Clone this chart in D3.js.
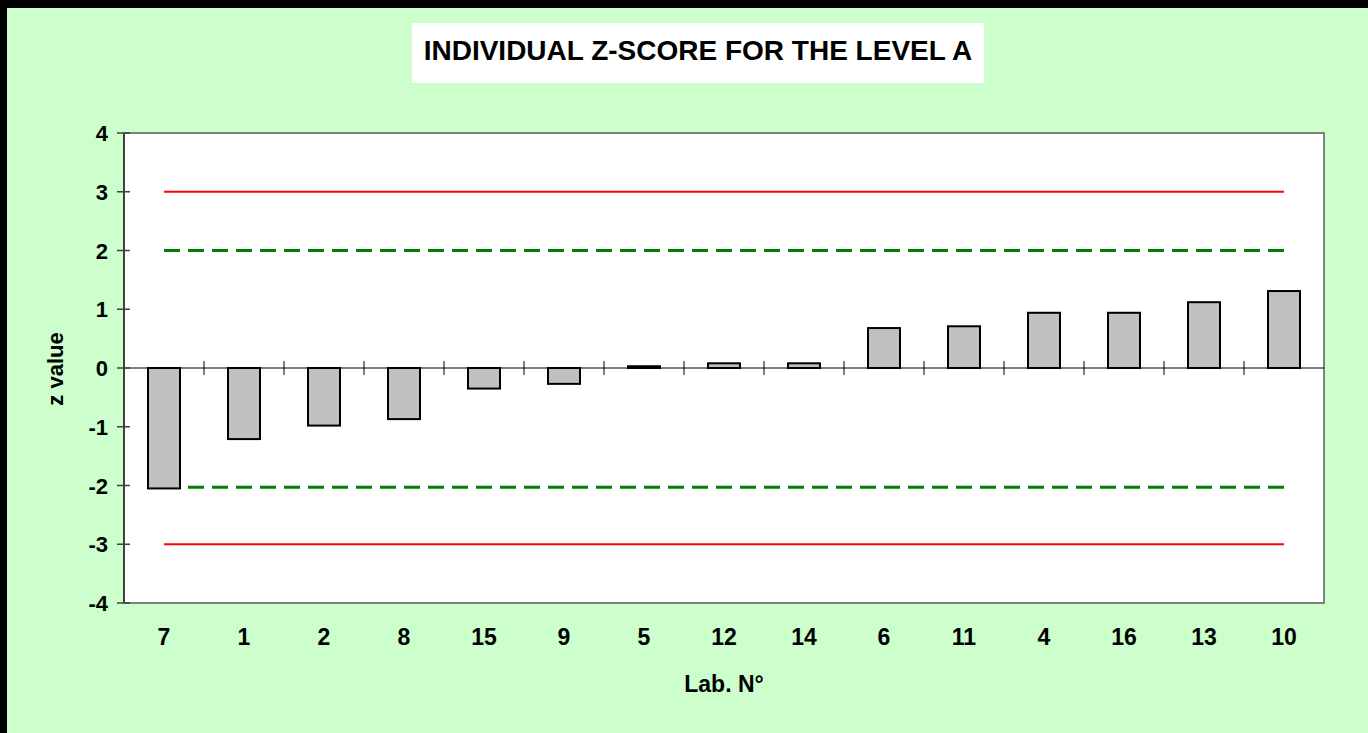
<!DOCTYPE html>
<html><head><meta charset="utf-8">
<script src="https://cdn.jsdelivr.net/npm/d3@7"></script>
<style>body{margin:0;background:#000;}svg{display:block;}</style>
</head><body>
<script>
const labs = ["7","1","2","8","15","9","5","12","14","6","11","4","16","13","10"];
const zValues = [-2.05,-1.21,-0.98,-0.87,-0.35,-0.27,0.03,0.08,0.08,0.68,0.71,0.94,0.94,1.12,1.31];
const yTicks = [4,3,2,1,0,-1,-2,-3,-4];
const redLimits = [3,-3];
const greenLimits = [2,-2.03];

const W=1368,H=733;
const svg=d3.select("body").append("svg").attr("width",W).attr("height",H);
svg.append("rect").attr("width",W).attr("height",H).attr("fill","#000");
svg.append("rect").attr("x",7).attr("y",8).attr("width",W-7).attr("height",H-8).attr("fill","#CCFFCC");

const L=124,R=1324,T=133,B=603;
const xb=d3.scaleBand().domain(labs).range([L,R]);
const y=d3.scaleLinear().domain([-4,4]).range([B,T]);
const font="'Liberation Sans', Arial, sans-serif";

svg.append("rect").attr("x",L).attr("y",T).attr("width",R-L).attr("height",B-T).attr("fill","#fff");
svg.append("path").attr("d",`M${L},${T}H${R}V${B}H${L}`).attr("fill","none").attr("stroke","#808080").attr("stroke-width",2);

// title
svg.append("rect").attr("x",412).attr("y",23).attr("width",572).attr("height",60).attr("fill","#fff");
svg.append("text").attr("x",698).attr("y",60).attr("text-anchor","middle")
  .attr("font-family",font).attr("font-weight","bold").attr("font-size",28).text("INDIVIDUAL Z-SCORE FOR THE LEVEL A");

// limit lines
const x0=xb(labs[0])+xb.bandwidth()/2, x1=xb(labs[labs.length-1])+xb.bandwidth()/2;
svg.selectAll(".red").data(redLimits).join("line").attr("x1",x0).attr("x2",x1)
  .attr("y1",d=>y(d)).attr("y2",d=>y(d)).attr("stroke","#FF0000").attr("stroke-width",2);
svg.selectAll(".green").data(greenLimits).join("line").attr("x1",x0).attr("x2",x1)
  .attr("y1",d=>y(d)).attr("y2",d=>y(d)).attr("stroke","#008000").attr("stroke-width",3).attr("stroke-dasharray","16,8");

// bars
svg.selectAll(".bar").data(labs).join("rect")
  .attr("x",d=>xb(d)+xb.bandwidth()/2-16).attr("width",32)
  .attr("y",(d,i)=>Math.min(y(zValues[i]),y(0)))
  .attr("height",(d,i)=>Math.abs(y(zValues[i])-y(0)))
  .attr("fill","#C0C0C0").attr("stroke","#000").attr("stroke-width",2);

// zero line with cross ticks
svg.append("line").attr("x1",L).attr("x2",R).attr("y1",y(0)).attr("y2",y(0)).attr("stroke","#000").attr("stroke-width",1);
const bounds=labs.slice(1).map(d=>xb(d));
svg.selectAll(".xt").data(bounds).join("line").attr("x1",d=>d).attr("x2",d=>d)
  .attr("y1",y(0)-7).attr("y2",y(0)+7).attr("stroke","#000").attr("stroke-width",1);

// y axis
svg.append("line").attr("x1",L).attr("x2",L).attr("y1",T).attr("y2",B).attr("stroke","#404040").attr("stroke-width",2);
svg.selectAll(".yt").data(yTicks).join("line").attr("x1",L-7).attr("x2",L+6)
  .attr("y1",d=>y(d)).attr("y2",d=>y(d)).attr("stroke","#404040").attr("stroke-width",1.5);
svg.selectAll(".yl").data(yTicks).join("text").attr("x",L-16).attr("y",d=>y(d)+8)
  .attr("text-anchor","end").attr("font-family",font).attr("font-weight","bold").attr("font-size",22).text(d=>d);

// x labels
svg.selectAll(".xl").data(labs).join("text").attr("x",d=>xb(d)+xb.bandwidth()/2).attr("y",645)
  .attr("text-anchor","middle").attr("font-family",font).attr("font-weight","bold").attr("font-size",23).text(d=>d);

svg.append("text").attr("x",724).attr("y",692).attr("text-anchor","middle")
  .attr("font-family",font).attr("font-weight","bold").attr("font-size",23).text("Lab. N°");
svg.append("text").attr("transform","translate(63,369) rotate(-90)").attr("text-anchor","middle")
  .attr("font-family",font).attr("font-weight","bold").attr("font-size",22).text("z value");
</script>
</body></html>
